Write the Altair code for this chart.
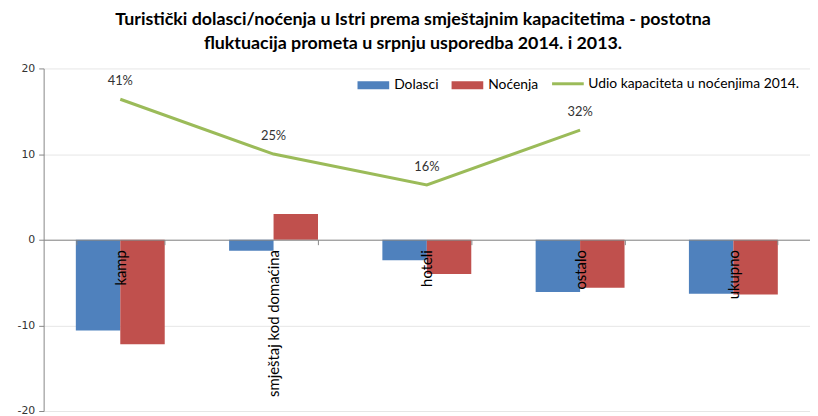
import altair as alt
import pandas as pd

categories = ["kamp", "smještaj kod domaćina", "hoteli", "ostalo", "ukupno"]
series = ["Dolasci", "Noćenja"]
dolasci = [-10.6, -1.3, -2.4, -6.1, -6.3]
nocenja = [-12.2, 3.0, -4.0, -5.6, -6.4]
line_name = "Udio kapaciteta u noćenjima 2014."
udio_cats = ["kamp", "smještaj kod domaćina", "hoteli", "ostalo"]
udio = [41, 25, 16, 32]
y_ticks = [-20, -10, 0, 10, 20]
title_lines = [
    "Turistički dolasci/noćenja u Istri prema smještajnim kapacitetima - postotna",
    "fluktuacija prometa u srpnju usporedba 2014. i 2013.",
]

bars_df = pd.DataFrame({
    "cat": categories * 2,
    "series": [series[0]] * len(categories) + [series[1]] * len(categories),
    "value": dolasci + nocenja,
})
line_df = pd.DataFrame({
    "cat": udio_cats,
    "udio": udio,
    "name": [line_name] * len(udio_cats),
    "label": [f"{v}%" for v in udio],
})

W, H = 774, 346
GRAY = "#868686"

x_enc = alt.X(
    "cat:N", sort=categories,
    scale=alt.Scale(paddingInner=0.42, paddingOuter=0.21),
    axis=alt.Axis(
        title=None, orient="bottom", offset=-H / 2, labelAngle=270,
        tickBand="extent", tickSize=5, tickColor=GRAY,
        domainColor=GRAY, labelFont="Lato", labelFontSize=15, labelColor="black",
        labelPadding=5, labelOverlap=False, labelBound=False, grid=False,
        labelLimit=0, zindex=1,
    ),
)

bars = alt.Chart(bars_df).mark_bar().encode(
    x=x_enc,
    xOffset=alt.XOffset("series:N", sort=series,
                        scale=alt.Scale(paddingInner=0, paddingOuter=0)),
    y=alt.Y("value:Q", scale=alt.Scale(domain=[-20, 20], nice=False),
            axis=alt.Axis(title=None, values=y_ticks, tickSize=5, tickColor=GRAY,
                          domainColor=GRAY, gridColor="#e6e6e6",
                          labelFont="DejaVu Sans", labelFontSize=11,
                          labelColor="#333333", labelPadding=4,
                          labelExpr="'' + datum.value")),
    color=alt.Color("series:N", sort=series,
                    scale=alt.Scale(domain=series, range=["#4F81BD", "#C0504D"]),
                    legend=alt.Legend(title=None, orient="none", legendX=314, legendY=10,
                                      direction="horizontal",
                                      symbolType="M-4,-1H4V1H-4Z", symbolSize=64,
                                      symbolOffset=12, labelOffset=14,
                                      columnPadding=10,
                                      labelFont="Lato", labelFontSize=14,
                                      labelColor="black")),
)

line = alt.Chart(line_df).mark_line(strokeWidth=3).encode(
    x=alt.X("cat:N", sort=categories),
    y=alt.Y("udio:Q", scale=alt.Scale(domain=[-50, 50], nice=False), axis=None),
    stroke=alt.Stroke("name:N", scale=alt.Scale(domain=[line_name], range=["#9BBB59"]),
                      legend=alt.Legend(title=None, orient="none", legendX=512, legendY=-2,
                                        symbolType="stroke", symbolSize=1024,
                                        symbolStrokeWidth=3, labelOffset=3,
                                        labelLimit=0,
                                        labelFont="Lato", labelFontSize=14,
                                        labelColor="black")),
)

labels = alt.Chart(line_df).mark_text(dy=-18, font="Lato", fontSize=13, color="#333333").encode(
    x=alt.X("cat:N", sort=categories),
    y=alt.Y("udio:Q", scale=alt.Scale(domain=[-50, 50], nice=False), axis=None),
    text="label:N",
)

chart = alt.layer(bars, line, labels).resolve_scale(
    y="independent"
).properties(
    width=W, height=H,
    padding={"left": 36, "top": 59, "right": 0, "bottom": 3},
    autosize=alt.AutoSizeParams(type="none"),
    background="white",
    title=alt.TitleParams(text=title_lines, font="Lato", fontSize=18, fontWeight="bold",
                          color="black", anchor="middle", dx=-14, offset=10,
                          lineHeight=24),
).configure_view(stroke=None)

chart.save("out.html", embed_options={"renderer": "svg", "actions": False})
